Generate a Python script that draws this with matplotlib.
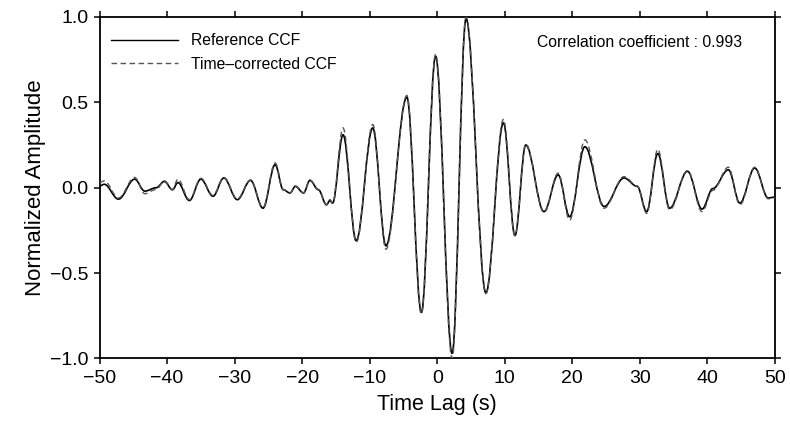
import matplotlib
matplotlib.use("Agg")
import matplotlib.pyplot as plt
from matplotlib.path import Path
from matplotlib.patches import PathPatch
from matplotlib.lines import Line2D

plt.rcParams['font.family'] = ['Liberation Sans', 'DejaVu Sans']

# Extrema (time lag in s)
t_ext = [-50.0, -49.3, -47.2, -44.8, -43.3, -41.6, -40.4, -39.2, -38.4, -36.7,
         -35.0, -33.2, -31.6, -29.6, -27.65, -25.8, -24.0, -22.8, -21.8, -21.0,
         -19.8, -18.85, -17.6, -16.4, -15.9, -15.5, -13.95, -12.0, -9.55, -7.6,
         -4.5, -2.35, -0.25, 2.2, 4.26, 7.2, 9.8, 11.5, 13.1, 15.8,
         17.9, 19.6, 21.85, 24.7, 27.65, 29.6, 31.0, 32.65, 34.4, 37.05,
         39.2, 40.8, 43.1, 44.8, 47.0, 49.0, 50.0]
ref_ccf = [0.01, 0.02, -0.067, 0.05, -0.02, 0.0, 0.037, -0.012, 0.03, -0.075,
           0.05, -0.05, 0.057, -0.07, 0.043, -0.12, 0.135, -0.012, -0.031, 0.008,
           -0.031, 0.043, -0.012, -0.10, -0.075, -0.09, 0.31, -0.31, 0.35, -0.34,
           0.53, -0.73, 0.77, -0.97, 0.99, -0.615, 0.38, -0.28, 0.25, -0.14,
           0.075, -0.17, 0.24, -0.11, 0.057, 0.008, -0.14, 0.20, -0.12, 0.096,
           -0.125, -0.005, 0.105, -0.09, 0.115, -0.06, -0.055]
cor_ccf = [0.03, 0.04, -0.06, 0.06, -0.035, -0.01, 0.04, -0.01, 0.05, -0.07,
           0.055, -0.045, 0.06, -0.065, 0.045, -0.115, 0.145, -0.01, -0.03, 0.01,
           -0.03, 0.045, -0.01, -0.10, -0.07, -0.09, 0.35, -0.32, 0.37, -0.36,
           0.54, -0.74, 0.78, -1.0, 1.0, -0.62, 0.40, -0.28, 0.255, -0.145,
           0.085, -0.19, 0.28, -0.12, 0.065, 0.01, -0.15, 0.225, -0.13, 0.10,
           -0.14, -0.015, 0.12, -0.10, 0.12, -0.065, -0.06]

x_ticks = [-50, -40, -30, -20, -10, 0, 10, 20, 30, 40, 50]
y_ticks = [-1.0, -0.5, 0.0, 0.5, 1.0]
legend_labels = ["Reference CCF", "Time\u2013corrected CCF"]
corr_text = "Correlation coefficient : 0.993"


def smooth_path(xs, ys, k=0.364):
    verts = [(xs[0], ys[0])]
    codes = [Path.MOVETO]
    for i in range(len(xs) - 1):
        x0, y0, x1, y1 = xs[i], ys[i], xs[i + 1], ys[i + 1]
        d = x1 - x0
        verts += [(x0 + k * d, y0), (x1 - k * d, y1), (x1, y1)]
        codes += [Path.CURVE4, Path.CURVE4, Path.CURVE4]
    return Path(verts, codes)


fig = plt.figure(figsize=(7.9, 4.23), dpi=100)
ax = fig.add_axes([0.126, 0.1525, 0.855, 0.8075])

ax.add_patch(PathPatch(smooth_path(t_ext, ref_ccf), fill=False,
                       edgecolor='black', lw=1.2, zorder=2))
ax.add_patch(PathPatch(smooth_path(t_ext, cor_ccf), fill=False,
                       edgecolor='#555555', lw=1.0, linestyle=(0, (4, 2.5)),
                       zorder=3))

ax.set_xlim(-50, 50)
ax.set_ylim(-1.0, 1.0)
ax.set_xticks(x_ticks)
ax.set_yticks(y_ticks)
ax.set_yticklabels([f"{v:.1f}".replace('-', '\u2212') for v in y_ticks])
ax.tick_params(direction='out', length=4, width=1.1, labelsize=14,
               top=True, right=True, pad=4)
for s in ax.spines.values():
    s.set_linewidth(1.3)

ax.set_xlabel("Time Lag (s)", fontsize=15.5, labelpad=5)
ax.set_ylabel("Normalized Amplitude", fontsize=16, labelpad=3)

handles = [Line2D([], [], color='black', lw=1.0),
           Line2D([], [], color='#555555', lw=1.0, linestyle=(0, (4, 2.5)))]
ax.legend(handles, legend_labels, loc='upper left', frameon=False,
          fontsize=11.3, handlelength=4.3, handletextpad=0.8,
          labelspacing=0.55, bbox_to_anchor=(0.0, 0.985), borderaxespad=0.3)

ax.text(0.648, 0.924, corr_text, transform=ax.transAxes, fontsize=11.3,
        va='center', ha='left')

fig.savefig("out.png", dpi=100)
